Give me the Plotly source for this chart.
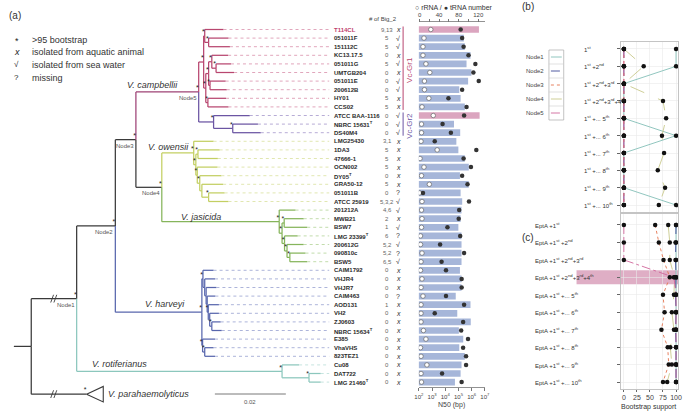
import plotly.graph_objects as go

W, H = 685, 413
FONT = "Liberation Sans, Arial, sans-serif"

# ---------------- data ----------------
TAXA = ["T114CL", "051011F", "151112C", "KC13.17.5", "051011G", "UMTGB204", "051011E", "200612B",
        "HY01", "CCS02", "ATCC BAA-1116", "NBRC 15631<sup>T</sup>", "DS40M4",
        "LMG25430", "1DA3", "47666-1", "OCN002", "DY05<sup>T</sup>", "GRA50-12", "051011B", "ATCC 25919",
        "201212A", "MWB21", "BSW7", "LMG 23399<sup>T</sup>", "200612G", "090810c", "BSW5",
        "CAIM1792", "VHJR4", "VHJR7", "CAIM463", "AOD131", "VH2", "ZJ0603", "NBRC 15634<sup>T</sup>",
        "E385", "VhaVHS", "823TEZ1",
        "Cu08", "DAT722", "LMG 21460<sup>T</sup>"]
CLADE = ["Gr1"] * 10 + ["Gr2"] * 3 + ["owe"] * 8 + ["jas"] * 7 + ["har"] * 11 + ["rot"] * 3
BIG2 = ["9,13", "5", "5", "0", "5", "0", "0", "0", "5", "5", "0", "0", "0",
        "3,1", "5", "5", "5", "0", "5", "0", "5,3,2",
        "4,6", "2", "1", "6", "5,2", "5,2", "6,5",
        "0", "0", "0", "0", "1", "0", "0", "0", "0", "0", "0",
        "0", "0", "0"]
SOURCE = ["x", "√", "√", "x", "√", "x", "√", "√", "x", "x", "√", "√", "√",
          "x", "x", "x", "x", "x", "x", "?", "√",
          "√", "x", "√", "?", "√", "?", "√",
          "x", "x", "x", "?", "x", "x", "x", "x", "x", "x", "x",
          "x", "x", "x"]
N50 = [3548000, 257000, 302000, 813000, 407000, 955000, 537000, 115000, 145000, 302000,
       3981000, 45700, 135000,
       69000, 98000, 302000, 603000, 129000, 603000, 145000, 191000,
       170000, 145000, 98000, 170000, 170000, 170000, 170000,
       129000, 170000, 170000, 62000, 813000, 81000, 851000, 107000, 229000, 115000, 302000,
       170000, 145000, 54000]
RRNA = [23, 9, 7, 7, 13, 21, 10, 10, 19, 5, 28, 4, 4,
        3, 36, 1, 9, 4, 20, 0, 5,
        4, 5, 4, 2, 2, 5, 3,
        2, 5, 3, 7, 3, 3, 3, 8, 13, 2, 3,
        15, 3, 4]
TRNA = [84, 87, 90, 100, 114, 110, 121, 87, 59, 96, 91, 47, 64,
        31, 116, 90, 105, 87, 98, 7, 101,
        81, 80, 57, 83, 42, 91, 45,
        54, 86, 86, 54, 91, 31, 89, 85, 99, 89, 95,
        95, 46, 86]
HIGHLIGHT = [0, 10]  # pink bars

# phylogeny (branch lengths in substitutions/site, "*" = >95 bootstrap)
G1 = ("((0:0.0053,(1:0.0056,2:0.0060)*:0.0011)*:0.0003,(((3:0.0046,(4:0.0042,5:0.0051)*:0.0012)*:0.0009,"
      "(6:0.0044,7:0.0047)*:0.0004)*:0.0008,(8:0.0051,9:0.0058)*:0.0006)*:0.0006)*:0.0014")
G2 = "(10:0.0102,(11:0.0071,12:0.0079)*:0.0054)*:0.0042"
CAMP = "(" + G1 + "," + G2 + ")Node5*:0.0177"
OWE = ("(13:0.0056,((14:0.0061,15:0.0056)*:0.0006,(16:0.0057,(17:0.0061,(18:0.0060,"
       "(19:0.0045,20:0.0056)*:0.0019):0.0006)*:0.0007)*:0.0004)*:0.0006)*:0.0090")
JAS = ("(21:0.0046,((22:0.0055,23:0.0065)*:0.0006,(24:0.0037,(25:0.0047,(26:0.0044,27:0.0049)*:0.0008)*:0.0007)"
       "*:0.0007)*:0.0008)*:0.0331")
NODE4 = "(" + OWE + "," + JAS + ")Node4*:0.0073"
NODE3 = "(" + CAMP + "," + NODE4 + ")Node3*:0.0058"
HAR = ("((28:0.0030,(29:0.0029,(30:0.0029,(31:0.0023,(32:0.0030,(33:0.0026,(34:0.0025,35:0.0028)*:0.0006)"
       ":0.0004)*:0.0003):0.0003):0.0004):0.0005)*:0.0003,(36:0.0035,(37:0.0025,38:0.0029)*:0.0006)*:0.0002)*:0.0244")
NODE2 = "(" + NODE3 + "," + HAR + ")Node2*:0.0109"
ROT = "(39:0.0048,(40:0.0033,41:0.0033)*:0.0076)*:0.0579"
NODE1 = "(" + NODE2 + "," + ROT + ")Node1*:0.0128"
NEWICK = "(" + NODE1 + ",P*:0.0156):0.0049;"
OUTGROUP_ROW = 42.4
BROKEN = ["Node1", "P"]

# panel b / c
B_ROWS = ["1<sup>st</sup>", "1<sup>st</sup> +2<sup>nd</sup>", "1<sup>st</sup> +2<sup>nd</sup>+3<sup>rd</sup>",
          "1<sup>st</sup> +2<sup>nd</sup>+3<sup>rd</sup>+4<sup>th</sup>", "1<sup>st</sup> +... 5<sup>th</sup>",
          "1<sup>st</sup> +... 6<sup>th</sup>", "1<sup>st</sup> +... 7<sup>th</sup>", "1<sup>st</sup> +... 8<sup>th</sup>",
          "1<sup>st</sup> +... 9<sup>th</sup>", "1<sup>st</sup> +... 10<sup>th</sup>"]
C_ROWS = ["EptA +" + r for r in B_ROWS]
NODES = ["Node1", "Node2", "Node3", "Node4", "Node5"]
B_VALUES = [[100, 100, 0, 0, 0, 100, 0, 0, 0, 100],
            [0, 0, 0, 0, 0, 0, 0, 0, 0, 0],
            [0, 0, 0, 0, 0, 0, 0, 0, 0, 0],
            [0, 38, 0, 75, 81, 73, 77, 65, 79, 67],
            [0, 0, 0, 0, 0, 0, 0, 0, 0, 0]]
C_VALUES = [[100, 100, 100, 100, 100, 100, 100, 100, 100, 100],
            [100, 99, 99, 100, 99, 100, 99, 100, 100, 100],
            [60, 67, 76, 88, 75, 78, 72, 84, 86, 75],
            [85, 88, 88, 97, 96, 92, 96, 89, 92, 83],
            [0, 0, 0, 96, 100, 100, 100, 100, 100, 100]]
C_HIGHLIGHT_ROW = 3

# ---------------- styling ----------------
COL = {"Gr1": "#b8466f", "Gr2": "#6b55a3", "camp": "#9e4275", "owe": "#c3cf62", "jas": "#86b55b",
       "har": "#5866ad", "rot": "#8cc7bd", "back": "#3a3a3a"}
DOT = {"Gr1": "#d98fab", "Gr2": "#a597cc", "owe": "#d9e19d", "jas": "#b3d397", "har": "#98a1d0", "rot": "#b9ded8"}
NODE_STYLE = [("#85bfb8", "solid"), ("#3d4796", "dash"), ("#e4744f", "dot"), ("#c9c98c", "longdash"),
              ("#d0679b", "dashdot")]


def px(x):
    return x / W


def py(y):
    return 1 - y / H


# ---------------- tree parsing / layout ----------------
def parse(s):
    pos = [0]

    def node():
        n = {"children": [], "label": "", "length": 0.0}
        if s[pos[0]] == "(":
            pos[0] += 1
            while True:
                n["children"].append(node())
                c = s[pos[0]]
                pos[0] += 1
                if c == ")":
                    break
        st = pos[0]
        while s[pos[0]] not in ":,);":
            pos[0] += 1
        n["label"] = s[st:pos[0]]
        if s[pos[0]] == ":":
            pos[0] += 1
            st = pos[0]
            while s[pos[0]] not in ",);":
                pos[0] += 1
            n["length"] = float(s[st:pos[0]])
        return n
    return node()


tree = parse(NEWICK)


def layout(n, depth):
    n["x"] = depth + n["length"]
    n["name"] = n["label"].replace("*", "")
    n["star"] = "*" in n["label"]
    if n["children"]:
        for c in n["children"]:
            layout(c, n["x"])
        n["y"] = (n["children"][0]["y"] + n["children"][-1]["y"]) / 2
        n["groups"] = set().union(*[c["groups"] for c in n["children"]])
    else:
        if n["name"] == "P":
            n["y"] = OUTGROUP_ROW
            n["groups"] = {"out"}
        else:
            n["y"] = int(n["name"])
            n["groups"] = {CLADE[int(n["name"])]}


layout(tree, 0.0)


def edge_color(n):
    g = n["groups"]
    if len(g) == 1:
        k = next(iter(g))
        return COL.get(k, COL["back"])
    if g <= {"Gr1", "Gr2"}:
        return COL["camp"]
    return COL["back"]


segs = {}
stars_x, stars_y = [], []
leaves = []
named = {}


def walk(n, parent):
    col = edge_color(n)
    seg = segs.setdefault(col, ([], []))
    x0 = parent["x"] if parent else 0.0
    seg[0].extend([x0, n["x"], None])
    seg[1].extend([n["y"], n["y"], None])
    if parent:
        seg[0].extend([parent["x"], parent["x"], None])
        seg[1].extend([parent["y"], n["y"], None])
    if n["star"]:
        stars_x.append(n["x"])
        stars_y.append(n["y"])
    if n["name"]:
        named[n["name"]] = n
    if n["children"]:
        for c in n["children"]:
            walk(c, n)
    elif n["name"] != "P":
        leaves.append(n)


walk(tree, None)

fig = go.Figure()

# tree branches
for col, (xs, ys) in segs.items():
    fig.add_trace(go.Scatter(x=xs, y=ys, mode="lines", line=dict(color=col, width=1.25),
                             hoverinfo="skip", xaxis="x", yaxis="y"))

# leaf leaders (dotted)
LEADER_END = (329 - 9) / 3600
for k in DOT:
    xs, ys = [], []
    for lf in leaves:
        if CLADE[int(lf["name"])] == k:
            xs += [lf["x"], LEADER_END, None]
            ys += [lf["y"], lf["y"], None]
    fig.add_trace(go.Scatter(x=xs, y=ys, mode="lines", line=dict(color=DOT[k], width=0.8, dash="dot"),
                             hoverinfo="skip", xaxis="x", yaxis="y"))

# collapsed outgroup triangle
P = named["P"]
TRI_LEN, TRI_HALF = 0.0047, 0.9
fig.add_trace(go.Scatter(x=[P["x"], P["x"] + TRI_LEN, P["x"] + TRI_LEN, P["x"]],
                         y=[P["y"], P["y"] - TRI_HALF, P["y"] + TRI_HALF, P["y"]],
                         mode="lines", line=dict(color=COL["back"], width=1.1), hoverinfo="skip"))

# branch breaks //
bx, by = [], []
BREAK_AT = (50 - 9) / 3600
for nm in BROKEN:
    yy = named[nm]["y"]
    for off in (-0.0006, 0.0003):
        bx += [BREAK_AT + off - 0.0004, BREAK_AT + off + 0.0004, None]
        by += [yy + 0.45, yy - 0.45, None]
fig.add_trace(go.Scatter(x=bx, y=by, mode="lines", line=dict(color=COL["back"], width=0.9), hoverinfo="skip"))

# bootstrap stars
fig.add_trace(go.Scatter(x=stars_x, y=stars_y, mode="text", text=["*"] * len(stars_x),
                         textposition="top left", textfont=dict(size=7, color="#222", family=FONT),
                         hoverinfo="skip"))

rows = list(range(len(TAXA)))

# N50 bars
bar_cols = ["#dba5bf" if i in HIGHLIGHT else "#a6b6d9" for i in rows]
fig.add_trace(go.Bar(x=N50, y=rows, orientation="h", width=0.78, marker=dict(color=bar_cols, line=dict(width=0)),
                     xaxis="x2", yaxis="y", hoverinfo="skip"))
# rRNA / tRNA
fig.add_trace(go.Scatter(x=RRNA, y=rows, mode="markers", xaxis="x3", yaxis="y",
                         marker=dict(size=4.5, color="white", line=dict(color="#666", width=0.7)), hoverinfo="skip"))
fig.add_trace(go.Scatter(x=TRNA, y=rows, mode="markers", xaxis="x3", yaxis="y",
                         marker=dict(size=4.5, color="#333"), hoverinfo="skip"))

# panel b and c lines
for k in range(5):
    col, dash = NODE_STYLE[k]
    fig.add_trace(go.Scatter(x=B_VALUES[k], y=list(range(10)), mode="lines", xaxis="x4", yaxis="y4",
                             line=dict(color=col, dash=dash, width=0.9), hoverinfo="skip"))
    fig.add_trace(go.Scatter(x=C_VALUES[k], y=list(range(10)), mode="lines", xaxis="x5", yaxis="y5",
                             line=dict(color=col, dash=dash, width=0.9), hoverinfo="skip"))
for k in range(5):
    fig.add_trace(go.Scatter(x=B_VALUES[k], y=list(range(10)), mode="markers", xaxis="x4", yaxis="y4",
                             marker=dict(color="#111", size=4.5), hoverinfo="skip"))
    fig.add_trace(go.Scatter(x=C_VALUES[k], y=list(range(10)), mode="markers", xaxis="x5", yaxis="y5",
                             marker=dict(color="#111", size=4.5), hoverinfo="skip"))

# ---------------- annotations ----------------
ann = []


def A(x, y, text, size=7, color="#333", xanchor="center", yanchor="middle", xref="paper", yref="paper", **kw):
    ann.append(dict(x=x, y=y, text=text, xref=xref, yref=yref, showarrow=False, xanchor=xanchor,
                    yanchor=yanchor, font=dict(size=size, color=color, family=FONT), **kw))


A(px(2), py(15), "(a)", size=10, xanchor="left")
A(px(523), py(7), "(b)", size=10, xanchor="left")
A(px(523), py(237), "(c)", size=10, xanchor="left")

# legend of (a)
A(px(12), py(41), "*", size=9, color="#222")
A(px(12), py(52), "<i>x</i>", size=9, color="#222")
A(px(12), py(65), "√", size=8, color="#222")
A(px(12), py(78), "?", size=8, color="#222")
for yy, t in [(39.5, ">95 bootstrap"), (52, "isolated from aquatic animal"), (65, "isolated from sea water"),
              (78, "missing")]:
    A(px(25), py(yy), t, size=9, color="#333", xanchor="left")

# clade labels
for (cx, cy, t) in [(150, 85, "V. campbellii"), (166, 147, "V. owensii"), (199, 217, "V. jasicida"),
                    (162, 303.5, "V. harveyi"), (116, 364, "V. rotiferianus"), (146, 393.5, "V. parahaemolyticus")]:
    A(px(cx), py(cy), "<i>" + t + "</i>", size=9, color="#333")

# node labels
for nm in ["Node1", "Node2", "Node3", "Node4", "Node5"]:
    nd = named[nm]
    A(nd["x"], nd["y"], nm, size=6, color="#555", xanchor="right", yanchor="top", xref="x", yref="y", yshift=-1)

# scale bar
SB_X0 = (213 - 9) / 3600
SB_Y = (394 - 29.5) / 8.6
A(SB_X0 + 0.01, SB_Y + 0.3, "0.02", size=6, color="#555", yanchor="top", xref="x", yref="y")

# taxa labels & columns
for i in rows:
    A(px(332), i, "<b>" + TAXA[i] + "</b>", size=6, color="#c0406b" if i == 0 else "#2a2a2a",
      xanchor="left", yref="y")
    A(px(388), i, BIG2[i], size=6, color="#666", yref="y")
    s = SOURCE[i]
    A(px(399), i, "<i>x</i>" if s == "x" else s, size=7, color="#333", yref="y")
A(px(384), py(19), "# of Big_2", size=6, color="#444")
A(px(456), py(7.5), "○ rRNA / ● tRNA number", size=7, color="#333")
A(px(453.5), py(405), "N50 (bp)", size=7, color="#444")
A(px(411), 4.7, "Vc-Gr1", size=8, color="#b8466f", yref="y", textangle=-90)
A(px(411), 11.2, "Vc-Gr2", size=8, color="#6b55a3", yref="y", textangle=-90)

# node legend for (b)
for k, nm in enumerate(NODES):
    A(px(549), py(57 + 14 * k), nm, size=6, color="#444", xanchor="right")
# panel labels b / c
for i, t in enumerate(B_ROWS):
    A(px(586), i, t, size=6, color="#333", xanchor="left", yref="y4")
for i, t in enumerate(C_ROWS):
    A(px(536), i, t, size=6, color="#333", xanchor="left", yref="y5")
A(px(653), py(407), "Bootstrap support", size=7, color="#333")

# ---------------- shapes ----------------
shapes = []
# scale bar line
shapes.append(dict(type="line", xref="x", yref="y", x0=SB_X0, x1=SB_X0 + 0.02, y0=SB_Y, y1=SB_Y,
                   line=dict(color="#555", width=0.8)))
# Vc group brackets
shapes.append(dict(type="line", xref="paper", yref="y", x0=px(404), x1=px(404), y0=-0.35, y1=9.35,
                   line=dict(color="#b8466f", width=1)))
shapes.append(dict(type="line", xref="paper", yref="y", x0=px(404), x1=px(404), y0=9.65, y1=12.35,
                   line=dict(color="#6b55a3", width=1)))
# node legend box
shapes.append(dict(type="rect", xref="paper", yref="paper", x0=px(552), x1=px(567), y0=py(120), y1=py(50),
                   line=dict(color="#aaa", width=0.7)))
for k in range(1, 5):
    shapes.append(dict(type="line", xref="paper", yref="paper", x0=px(552), x1=px(567), y0=py(50 + 14 * k),
                       y1=py(50 + 14 * k), line=dict(color="#ccc", width=0.6)))
for k in range(5):
    col, dash = NODE_STYLE[k]
    shapes.append(dict(type="line", xref="paper", yref="paper", x0=px(554), x1=px(565), y0=py(57 + 14 * k),
                       y1=py(57 + 14 * k), line=dict(color=col, width=0.9, dash=dash)))
# highlight band in (c)
shapes.append(dict(type="rect", xref="paper", yref="y5", x0=px(580), x1=px(683),
                   y0=C_HIGHLIGHT_ROW - 0.4, y1=C_HIGHLIGHT_ROW + 0.4, fillcolor="#d9a0bb", opacity=0.85,
                   line=dict(width=0), layer="below"))

grid = "#e9e9e9"
fig.update_layout(
    width=W, height=H, margin=dict(l=0, r=0, t=0, b=0),
    paper_bgcolor="white", plot_bgcolor="rgba(0,0,0,0)", showlegend=False,
    font=dict(family=FONT, size=7, color="#333"),
    xaxis=dict(domain=[0, 1], range=[-9 / 3600, (W - 9) / 3600], visible=False, fixedrange=True),
    yaxis=dict(domain=[0, 1], range=[(H - 29.5) / 8.6, -29.5 / 8.6], visible=False, fixedrange=True),
    xaxis2=dict(domain=[px(420), px(487)], type="log", range=[2, 7], anchor="free", position=py(387.5),
                showline=True, linecolor="#777", linewidth=0.8, ticks="outside", ticklen=3, tickcolor="#777",
                tickvals=[1e2, 1e3, 1e4, 1e5, 1e6, 1e7],
                ticktext=["10<sup>2</sup>", "10<sup>3</sup>", "10<sup>4</sup>", "10<sup>5</sup>",
                          "10<sup>6</sup>", "10<sup>7</sup>"],
                tickfont=dict(size=6, color="#444"), showgrid=False, zeroline=False),
    xaxis3=dict(overlaying="x2", side="top", anchor="free", position=py(21.5), range=[-1.4, 133.5],
                showline=True, linecolor="#777", linewidth=0.8, ticks="outside", ticklen=2.5, tickcolor="#777",
                tickvals=[0, 20, 40, 60, 80, 100, 120], ticktext=["0", "", "40", "", "80", "", "120"],
                tickfont=dict(size=6, color="#444"), showgrid=False, zeroline=False),
    xaxis4=dict(domain=[px(625), px(683)], range=[-5.7, 103.8], anchor="y4", tickvals=[0, 25, 50, 75, 100],
                showticklabels=False, showgrid=True, gridcolor=grid, gridwidth=0.6, showline=True, mirror=True,
                linecolor="#b5b5b5", linewidth=0.8, zeroline=False),
    yaxis4=dict(domain=[py(212), py(42)], range=[9.4, -0.4], anchor="x4", tickvals=list(range(10)),
                showticklabels=False, ticks="outside", ticklen=3, tickcolor="#666", showgrid=True, gridcolor=grid,
                gridwidth=0.6, showline=True, mirror=True, linecolor="#b5b5b5", linewidth=0.8, zeroline=False),
    xaxis5=dict(domain=[px(625), px(683)], range=[-5.7, 103.8], anchor="y5", tickvals=[0, 25, 50, 75, 100],
                showticklabels=True, tickfont=dict(size=7, color="#444"), ticks="outside", ticklen=2,
                tickcolor="#666", showgrid=True, gridcolor=grid, gridwidth=0.6, showline=True, mirror=True,
                linecolor="#b5b5b5", linewidth=0.8, zeroline=False),
    yaxis5=dict(domain=[py(389), py(214)], range=[9.4, -0.63], anchor="x5", tickvals=list(range(10)),
                showticklabels=False, ticks="outside", ticklen=3, tickcolor="#666", showgrid=True, gridcolor=grid,
                gridwidth=0.6, showline=True, mirror=True, linecolor="#b5b5b5", linewidth=0.8, zeroline=False),
    annotations=ann, shapes=shapes,
)

fig.write_html("out.html", config={"displayModeBar": False, "staticPlot": True},
               post_script="document.body.style.margin='0px';document.body.style.overflow='hidden';")
